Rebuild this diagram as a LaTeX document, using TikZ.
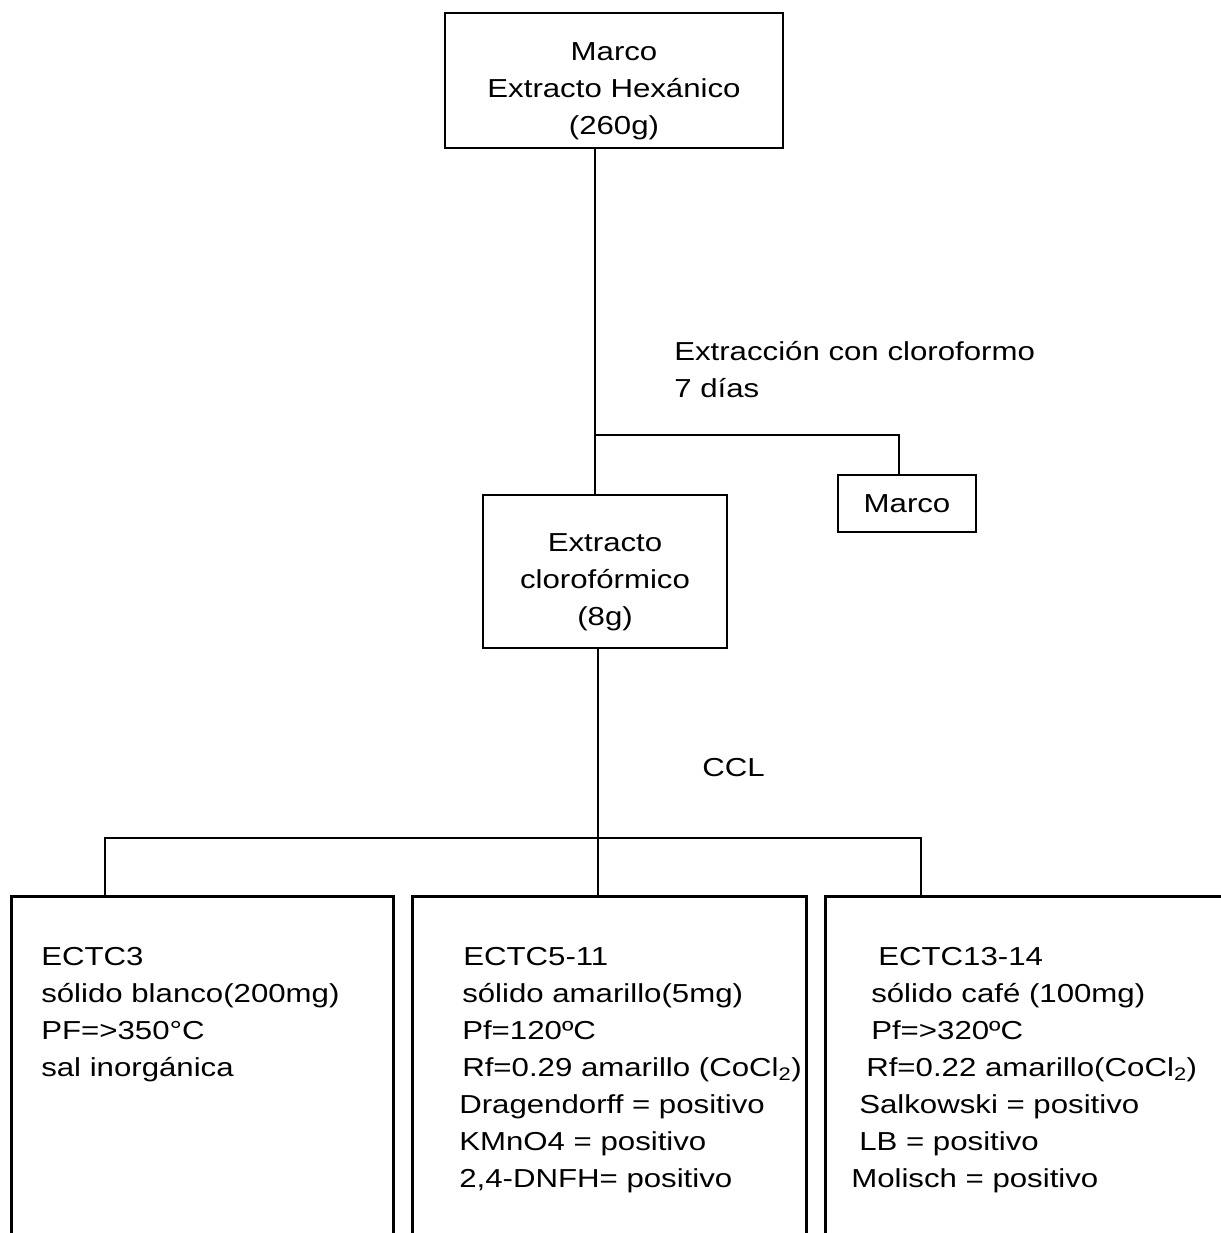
\documentclass[tikz,border=0pt]{standalone}
\usepackage{fontspec}
\setmainfont[FakeStretch=1.2]{Liberation Sans}
\usetikzlibrary{positioning}

\begin{document}
\begin{tikzpicture}[
  x=1pt, y=-1pt,
  line width=2.5pt,
  every node/.style={font=\fontsize{26}{37}\selectfont},
  box/.style={draw, align=center, inner sep=0pt},
  tallbox/.style={box, execute at begin node=\rule{0pt}{113pt}},
  leaf/.style={draw, anchor=north west, minimum height=365pt},
  leaftext/.style={align=left, anchor=north west, inner sep=0pt}
]
\useasboundingbox (0,0) rectangle (1220,1233);

\node[tallbox, minimum width=338pt, minimum height=135pt] (hex) at (614,80.5) {Marco\\Extracto Hexánico\\(260g)};
\node[tallbox, minimum width=244pt, minimum height=153pt] (ext) at (605,571.5) {Extracto\\clorofórmico\\(8g)};
\node[box, minimum width=138pt, minimum height=57pt] (marco) at (907,503.5) {Marco};
\node[anchor=west, align=left, inner sep=0pt] (cond) at (673,370) {Extracción con cloroformo\\7 días};
\node[anchor=west, inner sep=0pt] (ccl) at (701,768) {CCL};

\node[leaf, minimum width=382pt] (ectc3) at (10,895) {};
\node[leaf, minimum width=394pt] (ectc5) at (411,895) {};
\node[leaf, minimum width=420pt] (ectc13) at (824,895) {};

\node[leaftext] (t3) at ([shift={(30,51)}]ectc3.north west) {ECTC3\\sólido blanco(200mg)\\PF=>350°C\\sal inorgánica};
\node[leaftext] (t5) at ([shift={(47,51)}]ectc5.north west) {\hspace*{4pt}ECTC5-11\\\hspace*{3pt}sólido amarillo(5mg)\\\hspace*{3pt}Pf=120ºC\\\hspace*{3pt}Rf=0.29 amarillo (CoCl\textsubscript{2})\\Dragendorff = positivo\\KMnO4 = positivo\\2,4-DNFH= positivo};
\node[leaftext] (t13) at ([shift={(26,51)}]ectc13.north west) {\hspace*{27pt}ECTC13-14\\\hspace*{20pt}sólido café (100mg)\\\hspace*{20pt}Pf=>320ºC\\\hspace*{15pt}Rf=0.22 amarillo(CoCl\textsubscript{2})\\\hspace*{8pt}Salkowski = positivo\\\hspace*{8pt}LB = positivo\\Molisch = positivo};

\coordinate (split) at (595,435);
\coordinate (bus) at (598,838);
\draw (hex.south -| split) -- (ext.north -| split);
\draw (split) -| ([xshift=-8pt]marco.north);
\draw (ext.south -| bus) -- (bus);
\draw ([xshift=95pt]ectc3.north west) |- (bus) -| ([xshift=97pt]ectc13.north west);
\draw (bus) -- (bus |- ectc5.north);
\end{tikzpicture}
\end{document}
